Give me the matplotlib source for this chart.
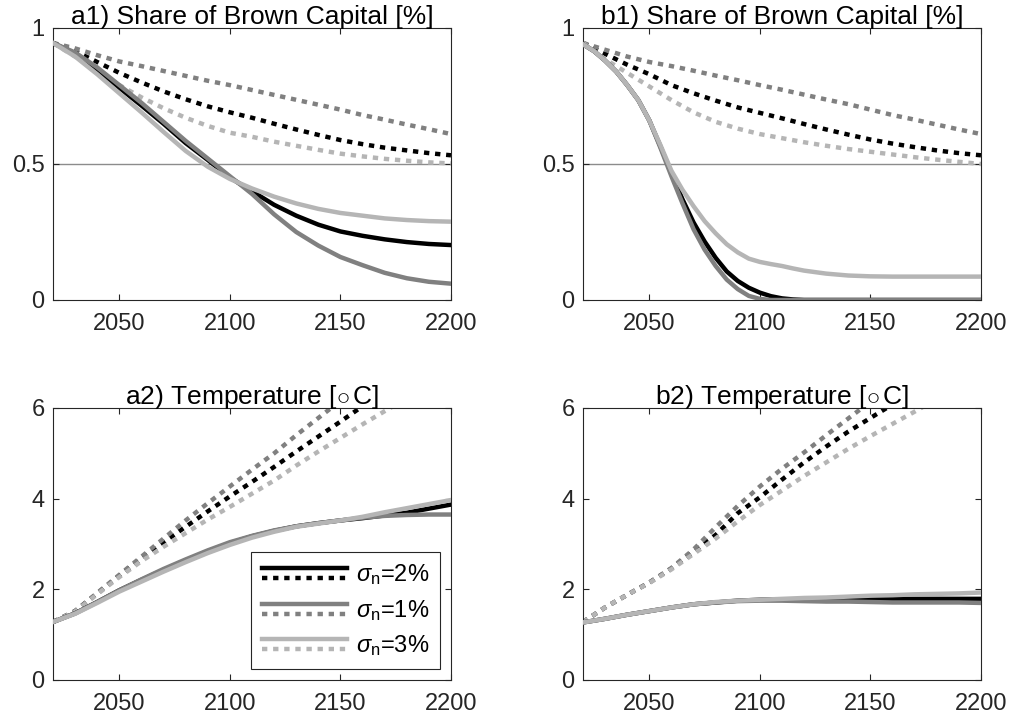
import matplotlib
matplotlib.use('Agg')
import matplotlib.pyplot as plt
from matplotlib.lines import Line2D
from matplotlib.legend_handler import HandlerBase

plt.rcParams['font.family'] = ['Liberation Sans', 'DejaVu Sans']
plt.rcParams['mathtext.fontset'] = 'custom'
plt.rcParams['mathtext.rm'] = 'Liberation Sans'
plt.rcParams['mathtext.it'] = 'Liberation Sans:italic'

# data, years every 10
years = list(range(2020, 2201, 10))
# finer grid for the steep policy paths in b1
years_fine = list(range(2020, 2120, 5)) + list(range(2120, 2201, 10))

# a1) share of brown capital, solid = policy, dotted = no policy
a1_s2 = [.945, .905, .845, .78, .715, .648, .577, .515, .45, .40, .35, .31, .277, .252, .236, .223, .213, .206, .202]
a1_s1 = [.945, .91, .855, .79, .725, .655, .585, .52, .455, .39, .315, .25, .20, .158, .128, .10, .08, .067, .06]
a1_s3 = [.945, .895, .83, .76, .69, .618, .548, .49, .445, .41, .38, .355, .335, .32, .31, .30, .294, .29, .288]
a1_d2 = [.945, .915, .875, .835, .80, .767, .738, .712, .69, .67, .648, .627, .607, .588, .573, .56, .55, .54, .532]
a1_d1 = [.945, .925, .90, .877, .86, .842, .824, .806, .79, .772, .754, .736, .718, .70, .68, .663, .645, .628, .61]
a1_d3 = [.945, .895, .84, .79, .745, .705, .67, .64, .615, .60, .582, .567, .552, .538, .528, .519, .512, .506, .502]

# b1) (solid on years_fine)
b1_s2 = [.94, .915, .88, .84, .79, .735, .66, .565, .465, .37, .285, .215, .155, .105, .07, .045, .027, .014, .006, .002,
         0, 0, 0, 0, 0, 0, 0, 0, 0]
b1_s1 = [.94, .915, .88, .84, .79, .735, .66, .56, .455, .355, .26, .185, .125, .075, .04, .015, .004, 0, 0, 0,
         0, 0, 0, 0, 0, 0, 0, 0, 0]
b1_s3 = [.94, .915, .88, .84, .79, .735, .66, .57, .475, .405, .345, .29, .245, .205, .175, .152, .14, .132, .125, .116,
         .108, .097, .09, .087, .086, .086, .086, .086, .086]
b1_d2 = [.945, .905, .865, .83, .79, .76, .733, .708, .688, .668, .647, .627, .608, .59, .575, .562, .55, .54, .532]
b1_d1 = [.945, .92, .895, .875, .86, .843, .825, .808, .79, .773, .755, .737, .72, .70, .68, .663, .645, .627, .61]
b1_d3 = [.945, .885, .835, .785, .735, .69, .655, .63, .61, .595, .58, .567, .555, .545, .535, .525, .516, .508, .50]

# a2) temperature
a2_s2 = [1.28, 1.47, 1.72, 1.98, 2.21, 2.43, 2.64, 2.84, 3.02, 3.17, 3.29, 3.39, 3.46, 3.52, 3.57, 3.63, 3.69, 3.78, 3.87]
a2_s1 = [1.28, 1.47, 1.72, 1.98, 2.22, 2.45, 2.66, 2.86, 3.04, 3.18, 3.30, 3.39, 3.46, 3.52, 3.58, 3.62, 3.64, 3.65, 3.65]
a2_s3 = [1.28, 1.46, 1.70, 1.95, 2.17, 2.39, 2.60, 2.80, 2.98, 3.14, 3.27, 3.38, 3.45, 3.52, 3.60, 3.70, 3.79, 3.88, 3.97]
a2_d2 = [1.28, 1.52, 1.91, 2.30, 2.68, 3.04, 3.38, 3.72, 4.05, 4.37, 4.70, 5.04, 5.37, 5.70, 6.04, 6.37, 6.70, 7.03, 7.36]
a2_d1 = [1.28, 1.52, 1.92, 2.32, 2.72, 3.12, 3.52, 3.90, 4.27, 4.64, 5.00, 5.40, 5.78, 6.16, 6.54, 6.92, 7.30, 7.68, 8.06]
a2_d3 = [1.28, 1.51, 1.89, 2.27, 2.62, 2.94, 3.24, 3.54, 3.82, 4.11, 4.40, 4.73, 5.04, 5.34, 5.64, 5.93, 6.22, 6.51, 6.80]

# b2)
b2_s2 = [1.27, 1.35, 1.44, 1.52, 1.60, 1.67, 1.71, 1.75, 1.77, 1.78, 1.78, 1.78, 1.79, 1.79, 1.79, 1.79, 1.79, 1.79, 1.79]
b2_s1 = [1.27, 1.35, 1.44, 1.52, 1.60, 1.67, 1.71, 1.74, 1.75, 1.75, 1.74, 1.73, 1.73, 1.72, 1.71, 1.71, 1.71, 1.71, 1.70]
b2_s3 = [1.27, 1.35, 1.44, 1.52, 1.60, 1.67, 1.72, 1.75, 1.77, 1.79, 1.81, 1.82, 1.84, 1.86, 1.87, 1.89, 1.90, 1.91, 1.93]
b2_d2 = [1.28, 1.60, 1.88, 2.15, 2.46, 2.83, 3.20, 3.68, 4.03, 4.42, 4.80, 5.15, 5.48, 5.78, 6.08, 6.38, 6.68, 6.98, 7.28]
b2_d1 = [1.28, 1.60, 1.88, 2.15, 2.47, 2.88, 3.37, 3.84, 4.27, 4.66, 5.02, 5.40, 5.77, 6.14, 6.51, 6.88, 7.25, 7.62, 7.99]
b2_d3 = [1.28, 1.60, 1.88, 2.14, 2.44, 2.78, 3.12, 3.50, 3.86, 4.18, 4.50, 4.80, 5.10, 5.38, 5.65, 5.92, 6.20, 6.48, 6.76]

titles = ['a1) Share of Brown Capital [%]', 'b1) Share of Brown Capital [%]',
          r'a2) Temperature [$\circ\,$C]', r'b2) Temperature [$\circ\,$C]']
legend_labels = [r'$\sigma_{\rm n}$=2%', r'$\sigma_{\rm n}$=1%', r'$\sigma_{\rm n}$=3%']

colors = ['black', '#808080', '#b5b5b5']
lw = 3.2
dots = (1.2, 1.3)
axis_col = '#262626'


class StackHandler(HandlerBase):
    # solid line on top, dotted line underneath
    def create_artists(self, legend, orig_handle, xdescent, ydescent,
                       width, height, fontsize, trans):
        solid, dotted = orig_handle
        yc = (height - ydescent) / 2
        x = [-xdescent, width - xdescent]
        l1 = Line2D(x, [yc + 3.5, yc + 3.5], color=solid.get_color(), lw=lw, transform=trans)
        l2 = Line2D(x, [yc - 3.5, yc - 3.5], color=dotted.get_color(), lw=lw,
                    dashes=dots, transform=trans)
        return [l1, l2]


fig = plt.figure(figsize=(10.1, 7.21), dpi=100)
left = [53 / 1010, 583 / 1010]
bottom = [1 - 300 / 721, 1 - 680 / 721]
w, h = 398 / 1010, 272 / 721

panels = [
    (left[0], bottom[0], years, [a1_s2, a1_s1, a1_s3], [a1_d2, a1_d1, a1_d3], (0, 1), [0, 0.5, 1]),
    (left[1], bottom[0], years_fine, [b1_s2, b1_s1, b1_s3], [b1_d2, b1_d1, b1_d3], (0, 1), [0, 0.5, 1]),
    (left[0], bottom[1], years, [a2_s2, a2_s1, a2_s3], [a2_d2, a2_d1, a2_d3], (0, 6), [0, 2, 4, 6]),
    (left[1], bottom[1], years, [b2_s2, b2_s1, b2_s3], [b2_d2, b2_d1, b2_d3], (0, 6), [0, 2, 4, 6]),
]

for i, (x0, y0, yrs_solid, solids, dotteds, ylim, yticks) in enumerate(panels):
    ax = fig.add_axes([x0, y0, w, h])
    if ylim[1] == 1:
        ax.axhline(0.5, color='#8c8c8c', lw=1.0, zorder=1)
    handles = []
    for k in range(3):
        d, = ax.plot(years, dotteds[k], color=colors[k], lw=lw, dashes=dots, zorder=2)
        handles.append([None, d])
    for k in range(3):
        s, = ax.plot(yrs_solid, solids[k], color=colors[k], lw=lw, zorder=3)
        handles[k][0] = s
    ax.set_xlim(2020, 2200)
    ax.set_ylim(*ylim)
    ax.set_xticks([2050, 2100, 2150, 2200])
    ax.set_yticks(yticks)
    ax.set_yticklabels([f'{t:g}' for t in yticks])
    ax.tick_params(direction='in', top=True, right=True, length=4, width=0.8,
                   colors=axis_col, labelsize=17)
    ax.tick_params(axis='x', pad=9)
    ax.tick_params(axis='y', pad=6)
    for sp in ax.spines.values():
        sp.set_color(axis_col)
        sp.set_linewidth(0.8)
    ax.set_title(titles[i], fontsize=19, pad=3)
    if i == 2:
        leg = ax.legend([tuple(hd) for hd in handles], legend_labels,
                        handler_map={tuple: StackHandler()},
                        loc='lower right', bbox_to_anchor=(0.972, 0.04),
                        fontsize=17, handlelength=3.6, handletextpad=0.4,
                        labelspacing=0.45, borderpad=0.45, borderaxespad=0,
                        fancybox=False, framealpha=1, edgecolor=axis_col)
        leg.get_frame().set_linewidth(0.8)

fig.savefig('out.png', dpi=100)
